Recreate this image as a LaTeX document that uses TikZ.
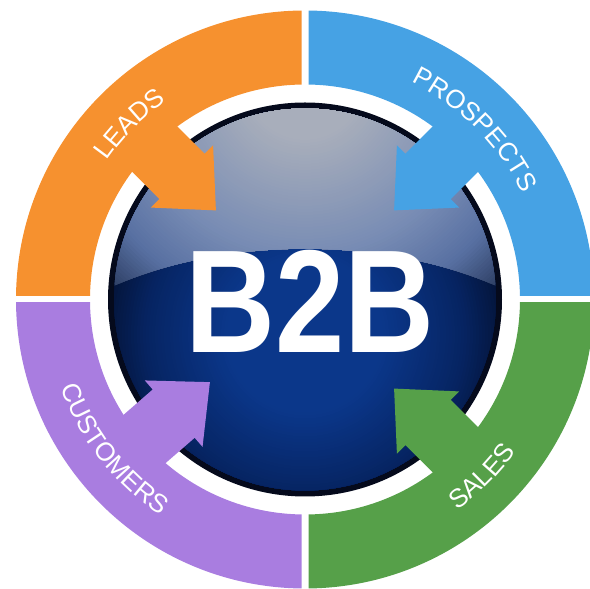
\documentclass[tikz,border=0pt]{standalone}
\usepackage{fontspec}
\setmainfont{Liberation Sans}
\usetikzlibrary{decorations.text}
\definecolor{cOrange}{RGB}{246,145,47}
\definecolor{cBlue}{RGB}{70,162,228}
\definecolor{cPurple}{RGB}{169,125,224}
\definecolor{cGreen}{RGB}{86,160,73}
\definecolor{rimC}{RGB}{5,10,28}
\definecolor{sphA}{RGB}{11,55,138}
\definecolor{sphB}{RGB}{6,36,98}
\definecolor{sphC}{RGB}{3,12,36}
\definecolor{hlA}{RGB}{168,174,187}
\definecolor{hlB}{RGB}{120,140,180}
\definecolor{hlC}{RGB}{88,112,162}
\definecolor{hlD}{RGB}{48,66,104}
\newcommand{\lblfont}{\fontsize{26}{26}\selectfont\color{white}}
\tikzset{
  lbl/.style={decorate, decoration={text along path, text align=center, text={|\lblfont|#1}}},
  bigtext/.style={font=\fontsize{146.6}{150}\selectfont\bfseries, text=white, inner sep=0pt}
}
\begin{document}
\begin{tikzpicture}[x=1pt,y=1pt]
\useasboundingbox (0,0) rectangle (590,589);
\clip (0,0) rectangle (590,589);
\coordinate (C) at (305,289.5);
% coloured quadrant bands
\foreach \col/\qx/\qy in {cOrange/-1/1, cBlue/1/1, cPurple/-1/-1, cGreen/1/-1} {
  \begin{scope}[shift={(C)}]
    \clip (\qx*3.5,\qy*3.5) rectangle (\qx*330,\qy*330);
    \fill[\col, even odd rule] (0,0) circle[radius=289pt] (0,0) circle[radius=215pt];
  \end{scope}
}
% sphere
\fill[rimC] (C) circle[radius=197pt];
\begin{scope}[shift={(C)}]
  \clip (0,0) circle[radius=191pt];
  % body gradient (concentric discs)
  \foreach \i in {0,...,82} {
    \pgfmathsetmacro{\r}{246-3*\i}
    \pgfmathsetmacro{\pa}{min(100,max(0,(222-\r)/(222-160)*100))}
    \pgfmathsetmacro{\pb}{min(100,max(0,(160-\r)/(160-80)*100))}
    \colorlet{tmpc}{sphB!\pa!sphC}
    \colorlet{tmpd}{sphA!\pb!tmpc}
    \fill[tmpd] (0,-35) circle[radius=\r pt];
  }
  % glossy highlight
  \begin{scope}
    \clip (-200,9.5) .. controls (-85,64.5) and (85,64.5) .. (200,9.5) -- (200,210) -- (-200,210) -- cycle;
    \foreach \i in {0,...,94} {
      \pgfmathsetmacro{\r}{282-3*\i}
      \pgfmathsetmacro{\pa}{min(100,max(0,(280-\r)/(280-235)*100))}
      \pgfmathsetmacro{\pb}{min(100,max(0,(235-\r)/(235-175)*100))}
      \pgfmathsetmacro{\pc}{min(100,max(0,(175-\r)/(175-60)*100))}
      \colorlet{tmpc}{hlC!\pa!hlD}
      \colorlet{tmpd}{hlB!\pb!tmpc}
      \colorlet{tmpe}{hlA!\pc!tmpd}
      \fill[tmpe] (0,219.5) circle[radius=\r pt];
    }
  \end{scope}
\end{scope}
% arrows
\foreach \col/\ang in {cOrange/135, cBlue/45, cPurple/221, cGreen/315}
  \fill[\col, shift={(C)}, rotate=\ang] (126,0) -- (174,44) -- (174,32) -- (250,32) -- (250,-32) -- (174,-32) -- (174,-44) -- cycle;
% labels
\path[lbl=LEADS] (C) ++(160:242pt) arc[start angle=160, end angle=110, radius=242pt];
\path[lbl=PROSPECTS] (C) ++(80:242pt) arc[start angle=80, end angle=10, radius=242pt];
\path[lbl=CUSTOMERS] (C) ++(183:260pt) arc[start angle=183, end angle=253, radius=260pt];
\path[lbl=SALES] (C) ++(290:260pt) arc[start angle=290, end angle=340, radius=260pt];
% centre text
\node[bigtext, xscale=0.85, anchor=base] (b2b) at (310,236) {B2B};
\end{tikzpicture}
\end{document}
